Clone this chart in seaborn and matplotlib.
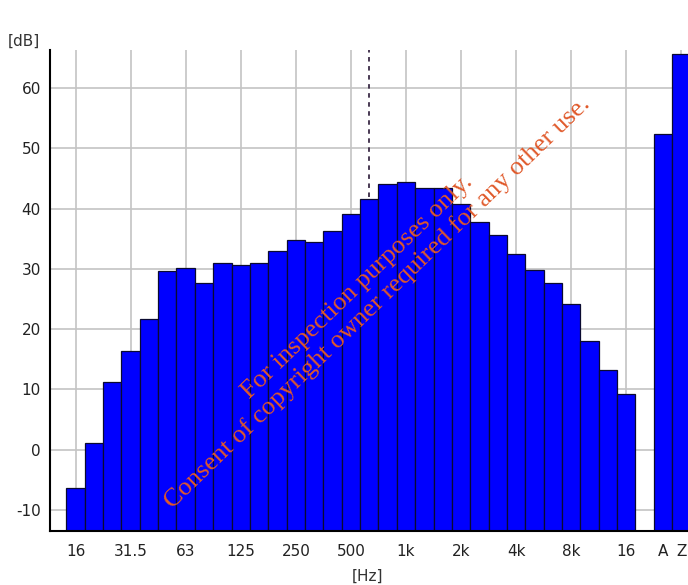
import numpy as np
import pandas as pd
import seaborn as sns
import matplotlib.pyplot as plt

# 1/3-octave bands 16 Hz - 16 kHz, then the A and Z totals
bands = ["16", "20", "25", "31.5", "40", "50", "63", "80", "100", "125", "160",
         "200", "250", "315", "400", "500", "630", "800", "1k", "1.25k", "1.6k",
         "2k", "2.5k", "3.15k", "4k", "5k", "6.3k", "8k", "10k", "12.5k", "16k"]
levels = [-6.4, 1.1, 11.2, 16.4, 21.7, 29.7, 30.2, 27.6, 30.9, 30.7, 30.9,
          33.0, 34.7, 34.4, 36.2, 39.1, 41.5, 44.0, 44.4, 43.4, 43.4,
          40.8, 37.8, 35.6, 32.4, 29.8, 27.6, 24.2, 18.0, 13.2, 9.2]
totals = ["A", "Z"]
total_levels = [52.3, 65.7]

tick_bands = ["16", "31.5", "63", "125", "250", "500", "1k", "2k", "4k", "8k", "16k"]
tick_labels = ["16", "31.5", "63", "125", "250", "500", "1k", "2k", "4k", "8k", "16"]
cursor_band = "630"
y_bottom = -13.5

# positions: bands side by side, one empty slot, then A and Z
pos = list(range(len(bands))) + [len(bands) + 1, len(bands) + 2]
df = pd.DataFrame({"pos": pos, "level": levels + total_levels,
                   "name": bands + totals})

sns.set_style("white")
plt.rcParams["font.family"] = ["DejaVu Sans"]
plt.rcParams["axes.unicode_minus"] = False

fig = plt.figure(figsize=(6.88, 5.85), dpi=100)
ax = fig.add_axes([50 / 688, 1 - 531 / 585, 1 - 50 / 688, (531 - 50) / 585])

# grid behind the bars
grid_c = "#c4c4c4"
for v in range(-10, 61, 10):
    ax.axhline(v, color=grid_c, lw=1.2, zorder=0)
xt = [bands.index(b) for b in tick_bands]
for x in xt + [pos[-1]]:
    ax.axvline(x, color=grid_c, lw=1.2, zorder=0)

# cursor line
cx = bands.index(cursor_band)
ax.axvline(cx, color="#3a2a45", lw=1.3, ls=(0, (2.5, 2.5)), zorder=0.5)

sns.barplot(data=df, x="pos", y="level", native_scale=True, width=1.0,
            color="#0000ff", saturation=1, edgecolor="#0a0a30", linewidth=0.9,
            errorbar=None, ax=ax)

# bars grow from the bottom of the axis, not from 0
for p in ax.patches:
    top = p.get_y() + p.get_height()
    p.set_y(y_bottom)
    p.set_height(top - y_bottom)
    p.set_zorder(2)

ax.set_xlim(-1.39, 33.36)
ax.set_ylim(y_bottom, 66.3)
ax.set_xticks(xt + pos[-2:])
ax.set_xticklabels(tick_labels + totals)
ax.set_yticks(range(-10, 61, 10))
ax.set_xlabel("")
ax.set_ylabel("")

for s in ["top", "right"]:
    ax.spines[s].set_visible(False)
for s in ["left", "bottom"]:
    ax.spines[s].set_color("black")
    ax.spines[s].set_linewidth(1.5)
    ax.spines[s].set_zorder(3)

ax.tick_params(axis="both", direction="out", length=5, width=1.2,
               colors="black", labelcolor="#222222", labelsize=11)
ax.tick_params(axis="y", pad=1.5)
ax.tick_params(axis="x", pad=4)

fig.text(8 / 688, 1 - 41 / 585, "[dB]", fontsize=11, color="#333333",
         va="center", ha="left")
fig.text(368 / 688, 1 - 576 / 585, "[Hz]", fontsize=11, color="#333333",
         va="center", ha="center")

# watermark
wm = "#e0592a"
fig.text(357 / 688, 1 - 287 / 585, "For inspection purposes only.",
         family="Liberation Serif", fontsize=19, color=wm, rotation=44,
         rotation_mode="anchor", ha="center", va="center", zorder=10)
fig.text(377 / 688, 1 - 303 / 585,
         "Consent of copyright owner required for any other use.",
         family="Liberation Serif", fontsize=19, color=wm, rotation=44,
         rotation_mode="anchor", ha="center", va="center", zorder=10)

fig.savefig("out.png", dpi=100, facecolor="white")
